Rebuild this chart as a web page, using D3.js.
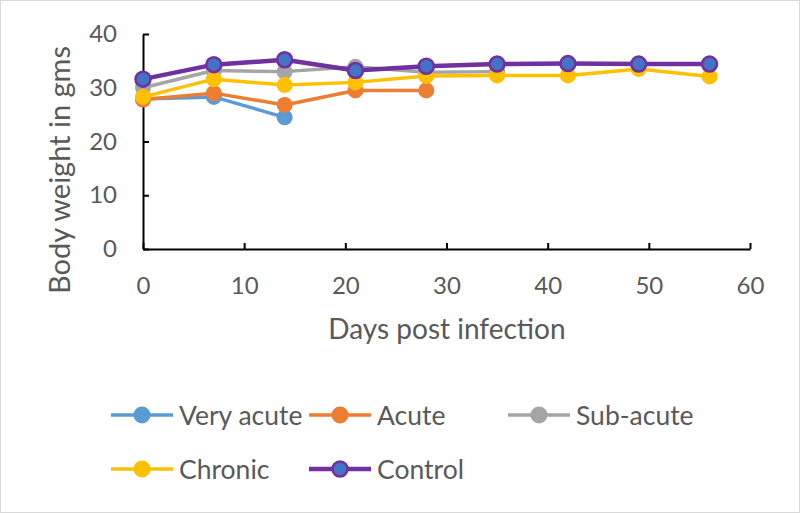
<!DOCTYPE html>
<html><head><meta charset="utf-8">
<script src="https://cdn.jsdelivr.net/npm/d3@7"></script>
<style>body{margin:0;background:#fff}svg{display:block}</style>
</head><body><svg id="c" width="800" height="513"></svg>
<script>
const days = [0,7,14,21,28,35,42,49,56];
const veryAcute = [27.9,28.3,24.5];
const acute = [27.8,29.0,26.8,29.5,29.5];
const subAcute = [30.0,33.2,33.0,33.9,32.9,33.0];
const chronic = [28.3,31.6,30.5,31.0,32.2,32.3,32.3,33.5,32.1];
const control = [31.6,34.3,35.2,33.2,34.0,34.4,34.5,34.4,34.4];
const seriesNames = ["Very acute","Acute","Sub-acute","Chronic","Control"];
const xTicks = [0,10,20,30,40,50,60];
const yTicks = [0,10,20,30,40];

const colors = ["#5B9BD5","#ED7D31","#A5A5A5","#FFC000","#7030A0"];
const series = [veryAcute,acute,subAcute,chronic,control];
const font = "Lato, 'Open Sans', sans-serif";
const svg = d3.select("#c");
svg.append("rect").attr("x",0.5).attr("y",0.5).attr("width",799).attr("height",512)
  .attr("fill","#fff").attr("stroke","#D9D9D9");
const x = d3.scaleLinear().domain([0,60]).range([143,750]);
const y = d3.scaleLinear().domain([0,40]).range([249,34]);

const xa = svg.append("g").attr("transform","translate(0,249)")
  .call(d3.axisBottom(x).tickValues(xTicks).tickSize(-6).tickSizeOuter(0).tickPadding(28));
const ya = svg.append("g").attr("transform","translate(143,0)")
  .call(d3.axisLeft(y).tickValues(yTicks).tickSize(-6).tickSizeOuter(0).tickPadding(26));
[xa,ya].forEach(a=>{
  a.select(".domain").attr("stroke","#000").attr("stroke-width",2);
  a.selectAll(".tick line").attr("stroke","#000").attr("stroke-width",2);
  a.selectAll("text").attr("fill","#595959").style("font-family",font).style("font-size","24px");
});

svg.append("text").attr("x",447).attr("y",339).attr("text-anchor","middle")
  .attr("fill","#595959").style("font-family",font).style("font-size","28px").text("Days post infection");
svg.append("text").attr("transform","translate(70,170) rotate(-90)").attr("text-anchor","middle")
  .attr("fill","#595959").style("font-family",font).style("font-size","29px").text("Body weight in gms");

const line = d3.line().x((d,i)=>x(days[i])).y(d=>y(d));
series.forEach((s,k)=>{
  const g = svg.append("g");
  const isC = k===4;
  g.append("path").datum(s).attr("d",line).attr("fill","none")
    .attr("stroke",colors[k]).attr("stroke-width",isC?4.5:3.5).attr("stroke-linejoin","round");
  g.selectAll("circle").data(s).join("circle")
    .attr("cx",(d,i)=>x(days[i])).attr("cy",d=>y(d)).attr("r",isC?7.5:8)
    .attr("fill",isC?"#4472C4":colors[k])
    .attr("stroke",isC?"#7030A0":"none").attr("stroke-width",2.5);
});

const legPos = [[111,415],[309,415],[508,415],[111,469],[309,469]];
seriesNames.forEach((n,k)=>{
  const [lx,ly] = legPos[k];
  const isC = k===4;
  const g = svg.append("g");
  g.append("line").attr("x1",lx).attr("x2",lx+62).attr("y1",ly).attr("y2",ly)
    .attr("stroke",colors[k]).attr("stroke-width",isC?4.5:3.5);
  g.append("circle").attr("cx",lx+31).attr("cy",ly).attr("r",isC?7.5:8.5)
    .attr("fill",isC?"#4472C4":colors[k]).attr("stroke",isC?"#7030A0":"none").attr("stroke-width",2.5);
  g.append("text").attr("x",lx+68).attr("y",ly).attr("dy","0.36em")
    .attr("fill","#595959").style("font-family",font).style("font-size","26.5px").text(n);
});
</script></body></html>
